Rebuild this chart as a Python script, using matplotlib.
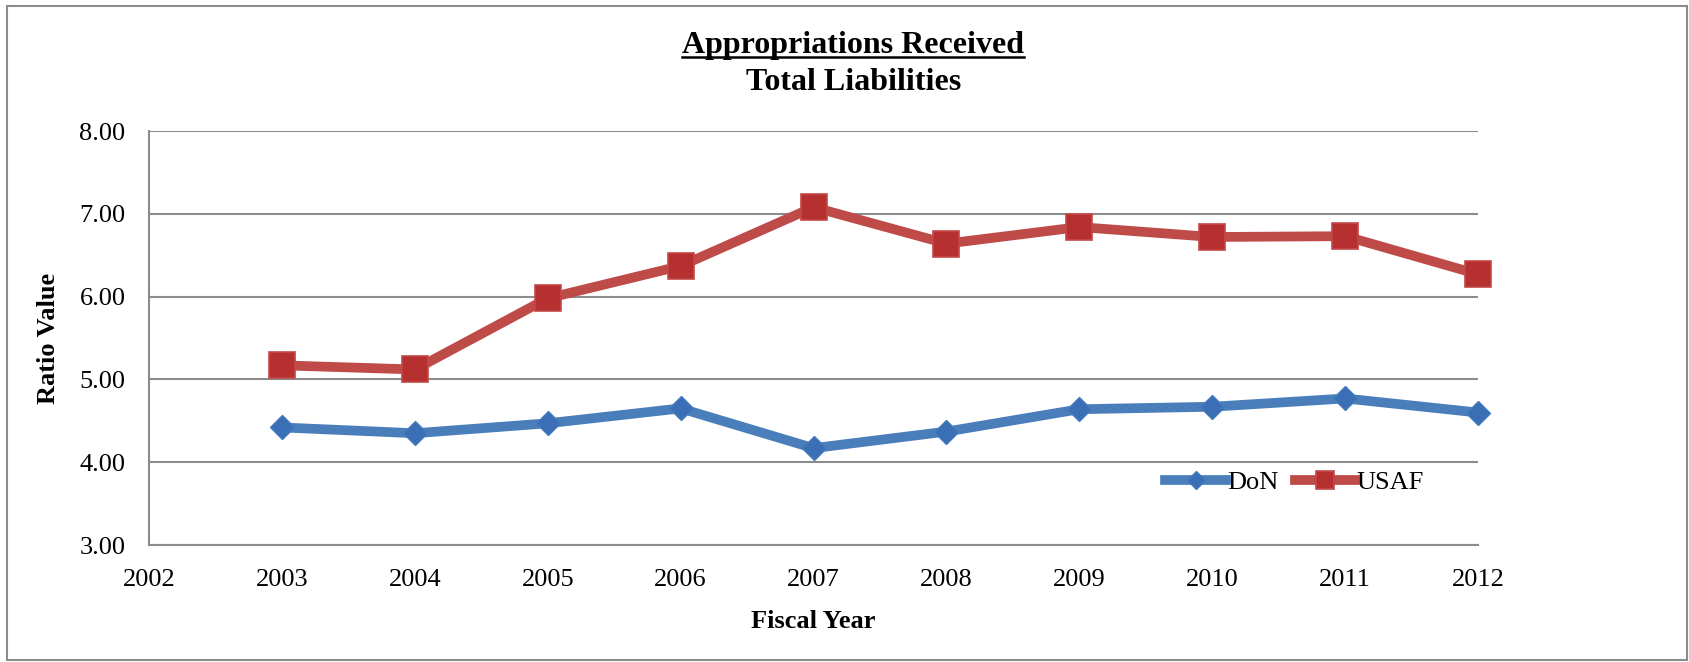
import matplotlib
matplotlib.use('Agg')
import matplotlib.pyplot as plt
from matplotlib.patches import Rectangle
from matplotlib.lines import Line2D

# ratio values by fiscal year
years = [2003, 2004, 2005, 2006, 2007, 2008, 2009, 2010, 2011, 2012]
don = [4.42, 4.35, 4.47, 4.65, 4.17, 4.37, 4.64, 4.67, 4.77, 4.60]
usaf = [5.17, 5.12, 5.98, 6.37, 7.08, 6.64, 6.84, 6.72, 6.73, 6.27]

xticks = list(range(2002, 2013))
yticks = [3.0, 4.0, 5.0, 6.0, 7.0, 8.0]

title1 = 'Appropriations Received'
title2 = 'Total Liabilities'

plt.rcParams['font.family'] = ['Liberation Serif', 'DejaVu Serif']
font_size = 19

fig = plt.figure(figsize=(16.9, 6.62), dpi=100)
ax = fig.add_axes([0.0882, 0.1767, 0.7864, 0.6254])

# the two series
ax.plot(years, don, color='#4A7EBB', lw=7, marker='D', ms=12.5,
        mfc='#3A6FB5', mec='#4479BD', mew=1.0, label='DoN', zorder=3,
        clip_on=False)
ax.plot(years, usaf, color='#BE4B48', lw=7, marker='s', ms=18.5,
        mfc='#B5302F', mec='#C44848', mew=1.2, label='USAF', zorder=3,
        clip_on=False)

# axis setup
ax.set_xlim(2002, 2012)
ax.set_ylim(3, 8)
ax.set_xticks(xticks)
ax.set_xticklabels([str(y) for y in xticks], fontsize=font_size)
ax.set_yticks(yticks)
ax.set_yticklabels(['%.2f' % v for v in yticks], fontsize=font_size)
ax.tick_params(axis='both', length=0)
ax.tick_params(axis='y', pad=17)
ax.tick_params(axis='x', pad=17)
ax.grid(axis='y', color='#8C8C8C', lw=1.5)
ax.set_axisbelow(True)
for side in ['top', 'right']:
    ax.spines[side].set_visible(False)
for side in ['left', 'bottom']:
    ax.spines[side].set_color('#8C8C8C')
    ax.spines[side].set_linewidth(1.5)

ax.set_ylabel('Ratio Value', fontsize=font_size, fontweight='bold', labelpad=14)
ax.set_xlabel('Fiscal Year', fontsize=font_size, fontweight='bold', labelpad=14)

ax.legend(loc='center', bbox_to_anchor=(0.862, 0.152), ncol=2, frameon=False,
          fontsize=font_size, handlelength=2.3, handletextpad=0.05,
          columnspacing=0.6, markerscale=0.7)

# two line title, first line underlined
t1 = fig.text(0.505, 1 - 45 / 662, title1, ha='center', va='center',
              fontsize=23, fontweight='bold')
fig.text(0.505, 1 - 82 / 662, title2, ha='center', va='center',
         fontsize=23, fontweight='bold')
fig.canvas.draw()
bb = t1.get_window_extent().transformed(fig.transFigure.inverted())
fig.add_artist(Line2D([bb.x0, bb.x1], [bb.y0 + 0.004, bb.y0 + 0.004],
                      color='black', lw=1.8, transform=fig.transFigure))

# outer frame around the chart
fig.add_artist(Rectangle((7 / 1690, 2 / 662), 1 - 10 / 1690, 1 - 8 / 662,
                         transform=fig.transFigure, fill=False,
                         edgecolor='#8C8C8C', lw=1.5))

plt.savefig('out.png', dpi=100)
plt.close()
